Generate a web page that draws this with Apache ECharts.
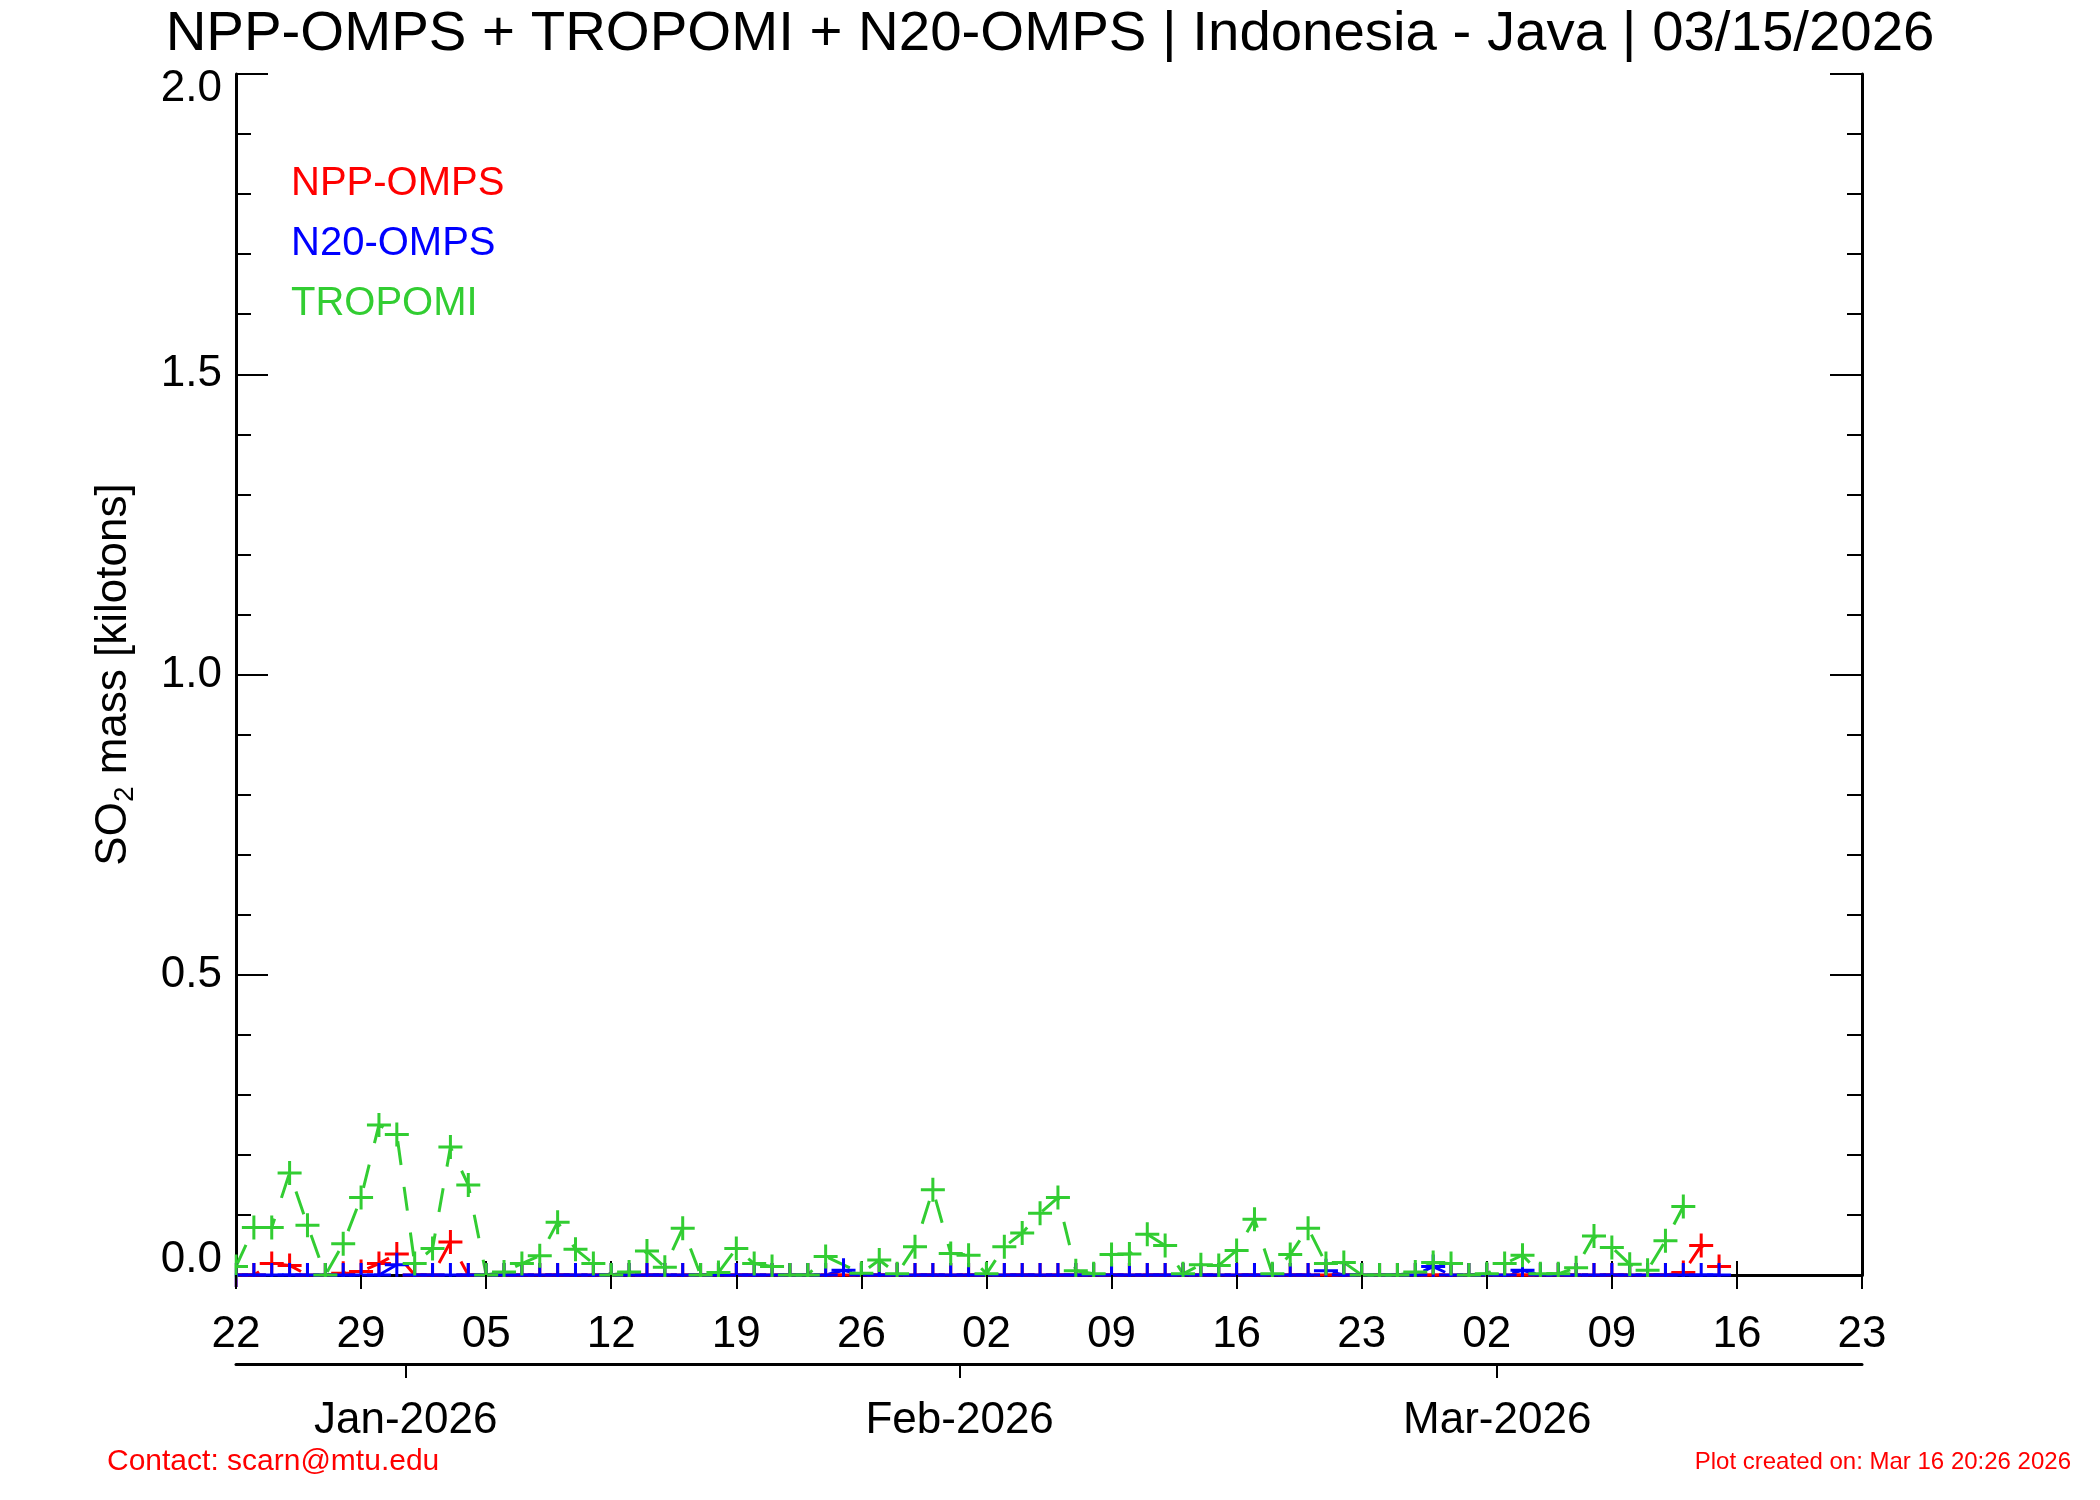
<!DOCTYPE html>
<html>
<head>
<meta charset="utf-8">
<script src="https://cdn.jsdelivr.net/npm/echarts@6/dist/echarts.min.js"></script>
<style>html,body{margin:0;padding:0;background:#fff}#c{width:2100px;height:1500px}</style>
</head>
<body>
<div id="c"></div>
<script>
// ---------------- data ----------------
const dates = [
'2025-12-22','2025-12-23','2025-12-24','2025-12-25','2025-12-26','2025-12-27','2025-12-28','2025-12-29','2025-12-30','2025-12-31',
'2026-01-01','2026-01-02','2026-01-03','2026-01-04','2026-01-05','2026-01-06','2026-01-07','2026-01-08','2026-01-09','2026-01-10',
'2026-01-11','2026-01-12','2026-01-13','2026-01-14','2026-01-15','2026-01-16','2026-01-17','2026-01-18','2026-01-19','2026-01-20',
'2026-01-21','2026-01-22','2026-01-23','2026-01-24','2026-01-25','2026-01-26','2026-01-27','2026-01-28','2026-01-29','2026-01-30',
'2026-01-31','2026-02-01','2026-02-02','2026-02-03','2026-02-04','2026-02-05','2026-02-06','2026-02-07','2026-02-08','2026-02-09',
'2026-02-10','2026-02-11','2026-02-12','2026-02-13','2026-02-14','2026-02-15','2026-02-16','2026-02-17','2026-02-18','2026-02-19',
'2026-02-20','2026-02-21','2026-02-22','2026-02-23','2026-02-24','2026-02-25','2026-02-26','2026-02-27','2026-02-28','2026-03-01',
'2026-03-02','2026-03-03','2026-03-04','2026-03-05','2026-03-06','2026-03-07','2026-03-08','2026-03-09','2026-03-10','2026-03-11',
'2026-03-12','2026-03-13','2026-03-14','2026-03-15'
];
const nppOmps = [
0,0,0.019,0.016,0,0,0.003,0.006,0.019,0.035,
0,0,0.055,0,0,0,0,0,0,0,
0,0,0,0,0,0,0,0,0,0,
0,0,0,0,0,0,0,0,0,0,
0,0,0,0,0,0,0,0,0,0,
0,0,0,0,0,0,0,0,0,0,
0,0,0,0,0,0,0,0,0,0,
0,0,0,0,0,0,0,0,0,0,
0,0.004,0.049,0.014
];
const n20Omps = [
0,0,0,0,0,0,0,0,0,0.017,
0,0,0,0,0,0,0,0,0,0,
0,0,0,0,0,0,0,0,0,0,
0,0,0,0,0.008,0,0,0,0,0,
0,0,0,0,0,0,0,0,0,0,
0,0,0,0,0,0,0,0,0,0,
0,0.007,0,0,0,0,0,0.014,0,0,
0,0,0.008,0,0,0,0,0,0,0,
0,0,0,0
];
const tropomi = [
0.014,0.079,0.079,0.170,0.083,0.0,0.052,0.129,0.250,0.234,
0.019,0.044,0.213,0.150,0.0,0.005,0.019,0.032,0.088,0.043,
0.019,0.0,0.005,0.040,0.013,0.078,0.0,0.004,0.044,0.019,
0.014,0.0,0.0,0.031,null,0.003,0.025,0.002,0.047,0.142,
0.036,0.033,0.002,0.047,0.070,0.103,0.129,0.007,0.002,0.034,
0.035,0.068,0.049,0.002,0.017,0.016,0.041,0.093,0.002,0.034,
0.078,0.019,0.021,0.0,0.0,0.0,0.005,0.021,0.019,0.0,
0.002,0.019,0.033,0.002,0.002,0.012,0.065,0.046,0.018,0.008,
0.057,0.114,null,null
];
const weekTicks = ['2025-12-22','2025-12-29','2026-01-05','2026-01-12','2026-01-19','2026-01-26','2026-02-02',
                   '2026-02-09','2026-02-16','2026-02-23','2026-03-02','2026-03-09','2026-03-16','2026-03-23'];
const monthTicks = ['2025-12-31 12:00','2026-01-31 12:00','2026-03-02 14:00'];
const monthLabels = ['Jan-2026','Feb-2026','Mar-2026'];
const xRange = ['2025-12-22','2026-03-23'];
const yTickLabels = ['0.0','0.5','1.0','1.5','2.0'];

// ---------------- helpers ----------------
const ff = '"Liberation Sans", Arial, Helvetica, sans-serif';
function ts(s){
  const parts = s.split(' ');
  const [y,m,d] = parts[0].split('-').map(Number);
  let h = 0, mi = 0;
  if (parts[1]) { [h, mi] = parts[1].split(':').map(Number); }
  return new Date(y, m-1, d, h, mi).getTime();
}
const xMin = ts(xRange[0]), xMax = ts(xRange[1]);
const weekTs = weekTicks.map(ts);
const monthTs = monthTicks.map(ts);
const nearestIdx = (arr, v) => {
  let best = 0, bd = Infinity;
  arr.forEach((t,i)=>{ const dd = Math.abs(t - v); if (dd < bd) { bd = dd; best = i; } });
  return best;
};
const weekFmt = v => weekTicks[nearestIdx(weekTs, v)].slice(8, 10);
const monthFmt = v => monthLabels[nearestIdx(monthTs, v)];
const yFmt = v => {
  const i = Math.round(v / 0.5);
  const s = yTickLabels[i];
  if (i === 0) return '{lo|' + s + '}';
  if (i === yTickLabels.length - 1) return '{hi|' + s + '}';
  return '{n|' + s + '}';
};
const plus = 'path://M10.5,0L13.5,0L13.5,10.5L24,10.5L24,13.5L13.5,13.5L13.5,24L10.5,24L10.5,13.5L0,13.5L0,10.5L10.5,10.5Z';
const RED = '#ff0000', BLUE = '#0000ff', GREEN = '#32cd32';

function mkSeries(name, arr, color){
  return {
    name, type:'line', xAxisIndex:0, yAxisIndex:0,
    data: dates.map((d,i)=>[ts(d), arr[i]]),
    connectNulls:true, showAllSymbol:true,
    symbol: plus, symbolSize: 24, symbolKeepAspect:true,
    itemStyle:{color},
    lineStyle:{color, width:3, type:[24,22]},
    emphasis:{disabled:true},
    clip:true
  };
}
const axisBlack = {color:'#000', width:3};
const tickBlack = {color:'#000', width:2};
const yLab = {fontSize:44, color:'#000', fontFamily:ff};

const chart = echarts.init(document.getElementById('c'), null, {renderer:'canvas'});
chart.setOption({
  animation:false,
  backgroundColor:'#fff',
  title:{
    text:'NPP-OMPS + TROPOMI + N20-OMPS | Indonesia - Java | 03/15/2026',
    left:'center', top:6, padding:0,
    textStyle:{fontSize:56.4, fontWeight:'normal', color:'#000', fontFamily:ff}
  },
  legend:{
    orient:'vertical', left:286, top:164, padding:0, itemGap:20,
    icon:'none', itemWidth:0, itemHeight:40, selectedMode:false,
    textStyle:{fontSize:40, fontFamily:ff},
    data:[
      {name:'NPP-OMPS', textStyle:{color:RED}},
      {name:'N20-OMPS', textStyle:{color:BLUE}},
      {name:'TROPOMI', textStyle:{color:GREEN}}
    ]
  },
  grid:{left:236, right:238, top:74, bottom:225, containLabel:false, outerBoundsMode:'none'},
  xAxis:[
    { type:'value', min:xMin, max:xMax, position:'bottom', z:0,
      axisLine:{lineStyle:axisBlack}, axisTick:{show:false}, axisLabel:{show:false}, splitLine:{show:false} },
    { type:'value', min:xMin, max:xMax, position:'top',
      axisLine:{lineStyle:axisBlack},
      axisTick:{show:true, inside:false, length:14, lineStyle:tickBlack, customValues:weekTs},
      axisLabel:{show:false}, splitLine:{show:false} },
    { type:'value', min:xMin, max:xMax, position:'bottom', offset:89,
      axisLine:{lineStyle:axisBlack},
      axisTick:{show:true, inside:false, length:14, lineStyle:tickBlack, customValues:monthTs},
      axisLabel:{customValues:monthTs, formatter:monthFmt, fontSize:44, color:'#000', margin:35, fontFamily:ff},
      splitLine:{show:false} },
    { type:'value', min:xMin, max:xMax, position:'bottom', z:10,
      axisLine:{show:false},
      axisTick:{show:true, inside:false, length:14, lineStyle:tickBlack, customValues:weekTs},
      axisLabel:{customValues:weekTs, formatter:weekFmt, fontSize:44, color:'#000', margin:38, fontFamily:ff},
      splitLine:{show:false} }
  ],
  yAxis:[
    { type:'value', min:0, max:2, interval:0.5, position:'left',
      axisLine:{show:true, lineStyle:axisBlack},
      axisTick:{show:true, inside:true, length:32, lineStyle:tickBlack},
      minorTick:{show:true, splitNumber:5, length:15, lineStyle:tickBlack},
      axisLabel:{formatter:yFmt, fontSize:44, color:'#000', margin:14, fontFamily:ff,
        rich:{ n:yLab,
               lo:Object.assign({padding:[0,0,30,0]}, yLab),
               hi:Object.assign({padding:[30,0,0,0]}, yLab) }},
      splitLine:{show:false}, minorSplitLine:{show:false},
      name:'{a|SO}{s|2}{a| mass [kilotons]}', nameLocation:'middle', nameRotate:90, nameGap:97,
      nameTextStyle:{fontSize:44, color:'#000', fontFamily:ff,
        rich:{a:{fontSize:44, lineHeight:50, color:'#000', fontFamily:ff},
              s:{fontSize:28, lineHeight:16, verticalAlign:'bottom', color:'#000', fontFamily:ff}}} },
    { type:'value', min:0, max:2, interval:0.5, position:'right',
      axisLine:{show:true, lineStyle:axisBlack},
      axisTick:{show:true, inside:true, length:32, lineStyle:tickBlack},
      minorTick:{show:true, splitNumber:5, length:15, lineStyle:tickBlack},
      axisLabel:{show:false}, splitLine:{show:false}, minorSplitLine:{show:false} }
  ],
  series:[
    mkSeries('NPP-OMPS', nppOmps, RED),
    mkSeries('N20-OMPS', n20Omps, BLUE),
    mkSeries('TROPOMI', tropomi, GREEN)
  ],
  graphic:[
    {type:'rect', z:5, silent:true, shape:{x:238, y:1277, width:1623, height:16}, style:{fill:'#fff'}},
    {type:'rect', z:5, silent:true, shape:{x:222, y:1230, width:12.5, height:60}, style:{fill:'#fff'}},
    {type:'text', z:5, left:107, top:1447, style:{text:'Contact: scarn@mtu.edu', fill:RED, fontSize:30, fontFamily:ff}},
    {type:'text', z:5, right:29, top:1450, style:{text:'Plot created on: Mar 16 20:26 2026', fill:RED, fontSize:24, fontFamily:ff}}
  ]
});
</script>
</body>
</html>
